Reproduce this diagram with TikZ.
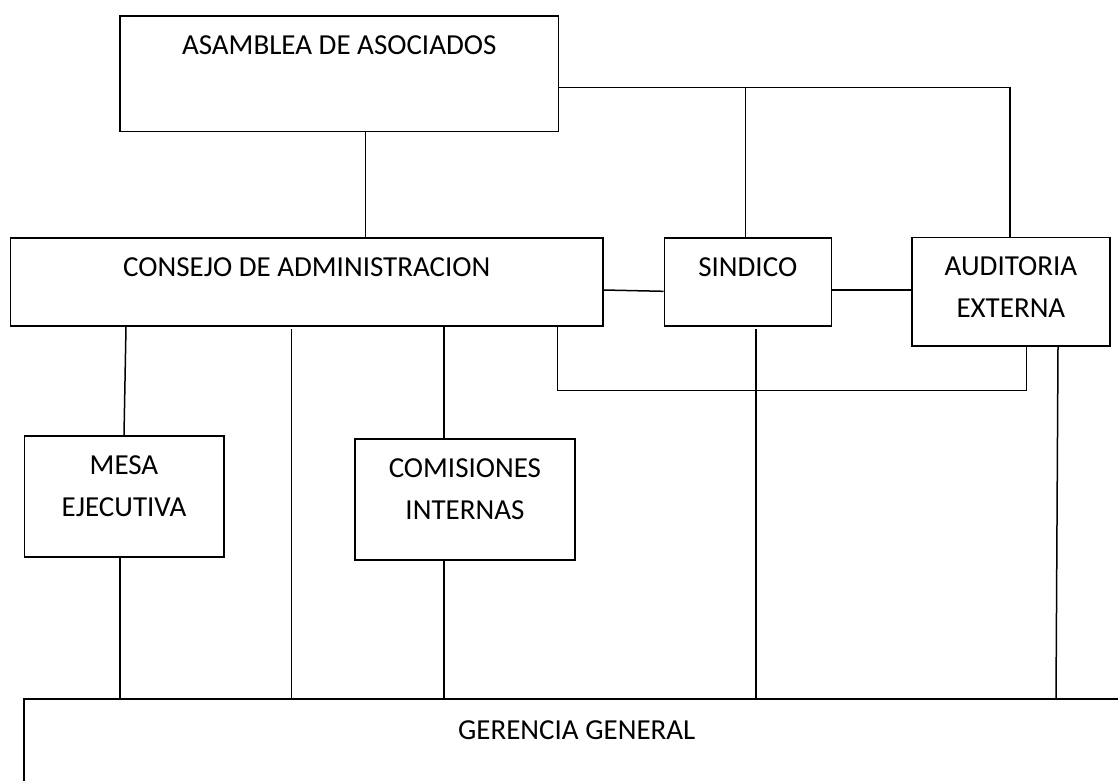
\documentclass[tikz,border=0pt]{standalone}
\usepackage{fontspec}
\setmainfont{Carlito}
\newcommand{\bxt}[4]{\parbox[t][#2pt][t]{#1pt}{\centering\rule{0pt}{#3pt}#4}}
\begin{document}
\begin{tikzpicture}[x=1pt,y=-1pt,
  box/.style={draw, line width=1.5pt, inner sep=0pt, anchor=north west,
              font=\fontsize{29pt}{41.7pt}\selectfont},
  conn/.style={line width=1.5pt}]
\useasboundingbox (0,0) rectangle (1118,780);
\clip (0,0) rectangle (1118,780);
\fill[white] (0,0) rectangle (1118,780);

\node[box] (asam) at (119.3,15)   {\bxt{438.4}{115.7}{38.3}{ASAMBLEA DE ASOCIADOS}};
\node[box] (cons) at (9.7,237.3)  {\bxt{592.6}{88}{38.4}{CONSEJO DE ADMINISTRACION}};
\node[box] (sind) at (663.5,237.3){\bxt{167}{88}{38.7}{SINDICO}};
\node[box] (audi) at (911,236.7)  {\bxt{198.3}{108.6}{38.3}{AUDITORIA\\EXTERNA}};
\node[box] (mesa) at (23.5,435)   {\bxt{199.5}{121}{39}{MESA\\EJECUTIVA}};
\node[box] (comi) at (354,438.3)  {\bxt{220.3}{120.7}{38.7}{COMISIONES\\INTERNAS}};
\node[box] (gere) at (23.3,698)   {\bxt{1105.4}{130}{40.3}{GERENCIA GENERAL}};

\coordinate (jS) at (745.3,87.3);
\coordinate (jA) at (1010,87.3);
\coordinate (loopL) at (557.7,390.7);
\coordinate (loopR) at (1026.7,390.7);
\coordinate (freeC) at (291.7,329);
\coordinate (freeS) at (756,329);

\draw[conn] (asam.south -| 365.7,0) -- (cons.north -| 365.7,0);
\draw[conn] (asam.east |- jA) -- (jA) -- (audi.north -| jA);
\draw[conn] (jS) -- (sind.north -| jS);
\draw[conn] (cons.east |- 0,290) -- (sind.west |- 0,291.3);
\draw[conn] (sind.east |- 0,290) -- (audi.west |- 0,290);
\draw[conn] (cons.south -| loopL) -- (loopL) -- (loopR) -- (audi.south -| loopR);
\draw[conn] (cons.south -| 126,0) -- (mesa.north -| 124,0);
\draw[conn] (freeC) -- (gere.north -| freeC);
\draw[conn] (cons.south -| 443.8,0) -- (comi.north -| 443.8,0);
\draw[conn] (mesa.south -| 119.8,0) -- (gere.north -| 119.8,0);
\draw[conn] (comi.south -| 444,0) -- (gere.north -| 444,0);
\draw[conn] (freeS) -- (gere.north -| freeS);
\draw[conn] (audi.south -| 1058,0) -- (gere.north -| 1056,0);
\end{tikzpicture}
\end{document}
